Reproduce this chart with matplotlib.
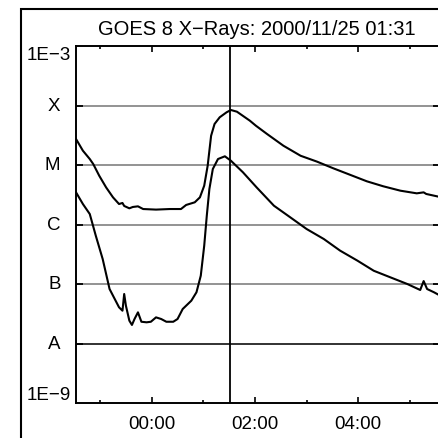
import numpy as np
import pandas as pd
import matplotlib
matplotlib.use("Agg")
import matplotlib.pyplot as plt
import matplotlib.dates as mdates
import matplotlib.transforms as mtransforms
from matplotlib.patches import Rectangle

plt.rcParams['font.family'] = ['Liberation Sans', 'DejaVu Sans']

title = "GOES 8 X\u2212Rays: 2000/11/25 01:31"

# 1-8 A channel (upper curve)
long_time = ["22:32", "22:40", "22:48", "22:52", "22:59", "23:07", "23:15", "23:22",
             "23:26", "23:28", "23:34", "23:38", "23:44", "23:50", "00:05", "00:21",
             "00:34", "00:40", "00:50", "00:56", "01:01", "01:05", "01:09", "01:13",
             "01:19", "01:27", "01:32", "01:39", "01:54", "02:01", "02:14", "02:33",
             "02:53", "03:12", "03:31", "03:51", "04:10", "04:29", "04:49", "05:08",
             "05:16", "05:19", "05:35"]
long_flux = [2.74e-5, 1.74e-5, 1.26e-5, 1.04e-5, 6.6e-6, 4.2e-6, 2.86e-6, 2.21e-6,
             2.30e-6, 2.05e-6, 1.87e-6, 1.97e-6, 2.02e-6, 1.82e-6, 1.78e-6, 1.82e-6,
             1.82e-6, 2.13e-6, 2.36e-6, 2.86e-6, 4.49e-6, 9.7e-6, 3.10e-5, 4.89e-5,
             6.34e-5, 7.69e-5, 8.40e-5, 7.87e-5, 5.56e-5, 4.58e-5, 3.32e-5, 2.11e-5,
             1.43e-5, 1.14e-5, 8.8e-6, 6.8e-6, 5.32e-6, 4.39e-6, 3.70e-6, 3.34e-6,
             3.47e-6, 3.26e-6, 2.90e-6]

# 0.5-4 A channel (lower curve)
short_time = ["22:32", "22:40", "22:48", "22:55", "23:03", "23:11", "23:17", "23:22",
              "23:26", "23:28", "23:30", "23:34", "23:37", "23:40", "23:44", "23:48",
              "23:54", "23:59", "00:05", "00:11", "00:17", "00:25", "00:30", "00:36",
              "00:46", "00:52", "00:57", "01:01", "01:04", "01:07", "01:11", "01:17",
              "01:25", "01:32", "01:46", "02:02", "02:22", "02:41", "03:00", "03:20",
              "03:39", "03:59", "04:18", "04:37", "04:57", "05:12", "05:16", "05:20",
              "05:28", "05:35"]
short_flux = [3.48e-6, 2.21e-6, 1.50e-6, 6.48e-7, 2.63e-7, 8.24e-8, 5.60e-8, 4.06e-8,
              3.56e-8, 6.79e-8, 4.32e-8, 2.42e-8, 2.05e-8, 2.58e-8, 3.34e-8, 2.32e-8,
              2.27e-8, 2.32e-8, 2.75e-8, 2.58e-8, 2.32e-8, 2.32e-8, 2.58e-8, 3.80e-8,
              5.24e-8, 7.26e-8, 1.38e-7, 4.40e-7, 1.41e-6, 3.95e-6, 8.57e-6, 1.26e-5,
              1.40e-5, 1.18e-5, 7.54e-6, 4.19e-6, 2.07e-6, 1.32e-6, 8.40e-7, 5.70e-7,
              3.63e-7, 2.47e-7, 1.67e-7, 1.30e-7, 1.00e-7, 7.93e-8, 1.12e-7, 8.24e-8,
              7.26e-8, 6.40e-8]

level_flux = [1e-9, 1e-8, 1e-7, 1e-6, 1e-5, 1e-4, 1e-3]
level_label = ["1E\u22129", "A", "B", "C", "M", "X", "1E\u22123"]

marker_time = "01:31"
x_start = "22:32"
x_end = "05:35"


def to_dt(hhmm):
    # hours from noon on belong to the day before
    day = "2000-11-24" if int(hhmm[:2]) >= 12 else "2000-11-25"
    return pd.Timestamp(day + " " + hhmm)


fig = plt.figure(figsize=(4.38, 4.39), dpi=100)
fig.patch.set_facecolor("white")

# outer frame, cut off on right and bottom like the original
fig.patches.append(Rectangle((20.5 / 438, -0.1), 1.2, 1.1 - 9.5 / 439, fill=False,
                             lw=1.5, edgecolor="black", transform=fig.transFigure))

ax = fig.add_axes([76 / 438, 35 / 439, 364 / 438, 357 / 439])

# class level lines
for f, lab in zip(level_flux[1:-1], level_label[1:-1]):
    ax.axhline(f, color="#222222" if lab == "A" else "#8a8a8a", lw=1.3, zorder=1)

ax.axvline(to_dt(marker_time), color="black", lw=1.3, zorder=2)

ax.plot([to_dt(t) for t in long_time], long_flux, color="black", lw=1.5, zorder=3)
ax.plot([to_dt(t) for t in short_time], short_flux, color="black", lw=1.5, zorder=3)

ax.set_yscale("log")
ax.set_ylim(level_flux[0], level_flux[-1])
ax.set_xlim(to_dt(x_start), to_dt(x_end))

ax.yaxis.set_major_locator(matplotlib.ticker.FixedLocator(level_flux[1:-1]))
ax.yaxis.set_minor_locator(matplotlib.ticker.NullLocator())
ax.tick_params(axis="y", which="major", direction="in", length=5, width=1.3,
               left=True, right=True, labelleft=False)

ax.xaxis.set_major_locator(mdates.HourLocator(byhour=[0, 2, 4]))
ax.xaxis.set_minor_locator(mdates.HourLocator())
ax.xaxis.set_major_formatter(mdates.DateFormatter("%H:%M"))
ax.tick_params(axis="x", which="major", direction="in", length=4.3, width=1.2,
               top=True, bottom=True, labelsize=13.5, pad=9)
ax.tick_params(axis="x", which="minor", direction="in", length=2.2, width=1.2,
               top=True, bottom=True)

for s in ax.spines.values():
    s.set_linewidth(1.4)

# y labels: numbers at the ends, class letters in between
trans = mtransforms.blended_transform_factory(fig.transFigure, ax.transData)
for f, lab in zip(level_flux, level_label):
    if lab.startswith("1E"):
        va = "top" if f == level_flux[-1] else "bottom"
        ax.text(70.5 / 438, f, lab, transform=trans, ha="right", va=va, fontsize=13.5)
    else:
        ax.text(60.5 / 438, f, lab, transform=trans, ha="right", va="center", fontsize=13.5)

fig.text(256.5 / 438, 1 - 35 / 439, title, ha="center", va="baseline", fontsize=14.5)

fig.savefig("out.png", dpi=100)
